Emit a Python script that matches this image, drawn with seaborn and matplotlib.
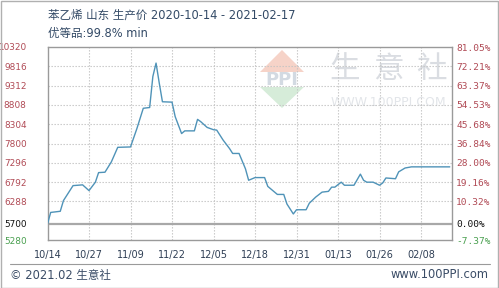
import matplotlib
matplotlib.use("Agg")
import matplotlib.pyplot as plt
from matplotlib.patches import Polygon, Rectangle
import seaborn as sns
import pandas as pd

# ---------------- data ----------------
dates = ["2020-10-14", "2020-10-15", "2020-10-18", "2020-10-19", "2020-10-22", "2020-10-25",
         "2020-10-27", "2020-10-29", "2020-10-30", "2020-11-01", "2020-11-03", "2020-11-05",
         "2020-11-09", "2020-11-11", "2020-11-13", "2020-11-15", "2020-11-16", "2020-11-17",
         "2020-11-18", "2020-11-19", "2020-11-22", "2020-11-23", "2020-11-25", "2020-11-26",
         "2020-11-29", "2020-11-30", "2020-12-01", "2020-12-03", "2020-12-05", "2020-12-06",
         "2020-12-08", "2020-12-10", "2020-12-11", "2020-12-13", "2020-12-15", "2020-12-16",
         "2020-12-18", "2020-12-21", "2020-12-22", "2020-12-25", "2020-12-27", "2020-12-28",
         "2020-12-30", "2020-12-31", "2021-01-03", "2021-01-04", "2021-01-06", "2021-01-08",
         "2021-01-10", "2021-01-11", "2021-01-12", "2021-01-14", "2021-01-15", "2021-01-18",
         "2021-01-20", "2021-01-21", "2021-01-22", "2021-01-24", "2021-01-26", "2021-01-27",
         "2021-01-28", "2021-01-31", "2021-02-01", "2021-02-03", "2021-02-05", "2021-02-17"]
prices = [5700, 6000, 6030, 6310, 6700, 6720,
          6570, 6790, 7040, 7050, 7320, 7700,
          7710, 8190, 8720, 8740, 9550, 9900,
          9380, 8890, 8880, 8500, 8060, 8130,
          8130, 8430, 8370, 8220, 8160, 8150,
          7890, 7670, 7540, 7540, 7140, 6840,
          6910, 6910, 6680, 6470, 6470, 6220,
          5960, 6070, 6070, 6240, 6400, 6530,
          6550, 6660, 6660, 6790, 6710, 6710,
          7000, 6840, 6790, 6790, 6710, 6770,
          6900, 6880, 7060, 7160, 7190, 7190]

ytick_values = [5280, 5700, 6288, 6792, 7296, 7800, 8304, 8808, 9312, 9816, 10320]
ytick_labels = ["5280", "5700", "6288", "6792", "7296", "7800", "8304", "8808", "9312", "9816", "10320"]
pct_labels = ["-7.37%", "0.00%", "10.32%", "19.16%", "28.00%", "36.84%", "45.68%",
              "54.53%", "63.37%", "72.21%", "81.05%"]
xtick_dates = ["2020-10-14", "2020-10-27", "2020-11-09", "2020-11-22", "2020-12-05",
               "2020-12-18", "2020-12-31", "2021-01-13", "2021-01-26", "2021-02-08"]
xtick_labels = ["10/14", "10/27", "11/09", "11/22", "12/05", "12/18", "12/31",
                "01/13", "01/26", "02/08"]

title1 = "苯乙烯 山东 生产价 2020-10-14 - 2021-02-17"
title2 = "优等品:99.8% min"
footer_left = "© 2021.02 生意社"
footer_right = "www.100PPI.com"

df = pd.DataFrame({"date": pd.to_datetime(dates), "price": prices})

# ---------------- figure ----------------
sns.set_style("white")
FONTS = ["DejaVu Sans", "Noto Sans CJK SC"]
plt.rcParams["font.family"] = FONTS

W, H = 499, 288
fig = plt.figure(figsize=(W / 100, H / 100), dpi=100)
L, R, T, B = 47.5, 452.0, 47.0, 240.0
ax = fig.add_axes([L / W, 1 - B / H, (R - L) / W, (B - T) / H])

def px(x, y):
    return ((x - L) / (R - L), (B - y) / (B - T))

# watermark
ax_tr = ax.transAxes
top = Polygon([px(260, 72), px(282, 50), px(304, 72)], closed=True,
              facecolor="#f6d3c8", edgecolor="none", transform=ax_tr, zorder=0.5)
bot = Polygon([px(260, 87), px(282, 108), px(304, 87)], closed=True,
              facecolor="#d6ecd9", edgecolor="none", transform=ax_tr, zorder=0.5)
ax.add_patch(top)
ax.add_patch(bot)
ax.text(*px(282, 80), "PPI", transform=ax_tr, ha="center", va="center",
        fontsize=13, color="#d3dae2", fontweight="bold", zorder=0.6)
for cx, ch in zip([345, 388, 431], ["生", "意", "社"]):
    ax.text(*px(cx, 70), ch, transform=ax_tr, ha="center", va="center",
            fontsize=22, color="#dadde2", family=["Noto Sans CJK SC"], zorder=0.6)
ax.text(*px(388, 103), "WWW.100PPI.COM", transform=ax_tr, ha="center", va="center",
        fontsize=9, color="#e2e5e9", zorder=0.6)

sns.lineplot(data=df, x="date", y="price", ax=ax, color="#4f93b8", linewidth=1.0,
             zorder=3)

ymin, ymax = 5280, 10320
start = pd.Timestamp("2020-10-14")
ax.set_xlim(start, start + pd.Timedelta(days=126.7))
ax.set_ylim(ymin, ymax)

ax.set_yticks(ytick_values)
ax.set_yticklabels(ytick_labels, fontsize=6.4)
ax.set_xticks(pd.to_datetime(xtick_dates))
ax.set_xticklabels(xtick_labels, fontsize=7, color="#2f3f55")
ax.set_xlabel("")
ax.set_ylabel("")
ax.tick_params(axis="both", length=0)
ax.tick_params(axis="y", pad=15)
ax.tick_params(axis="x", pad=7)

def lab_color(v):
    if v > 5700:
        return "#b04a55"
    if v == 5700:
        return "#111111"
    return "#4aa050"

for lbl, v in zip(ax.get_yticklabels(), ytick_values):
    lbl.set_color(lab_color(v))

# grid
for v in ytick_values[2:-1]:
    ax.axhline(v, color="#c4c4c4", lw=0.8, ls=(0, (1.2, 1.5)), zorder=1)
for d in xtick_dates[1:]:
    ax.axvline(pd.Timestamp(d), color="#c4c4c4", lw=0.8, ls=(0, (1.2, 1.5)), zorder=1)
ax.axhline(5700, color="#a8a8a8", lw=1.6, zorder=2)

for s in ax.spines.values():
    s.set_color("#9a9a9a")
    s.set_linewidth(1.0)

ax2 = ax.twinx()
ax2.set_ylim(ymin, ymax)
ax2.set_yticks(ytick_values)
ax2.set_yticklabels(pct_labels, fontsize=6.8, family=["DejaVu Sans Mono"])
ax2.tick_params(axis="y", length=0, pad=3)
for lbl, v in zip(ax2.get_yticklabels(), ytick_values):
    lbl.set_color(lab_color(v))
for s in ax2.spines.values():
    s.set_visible(False)

# titles
fig.text(48 / W, 1 - 15 / H, title1, ha="left", va="center", fontsize=8.3,
         color="#334a66", family=FONTS)
fig.text(48 / W, 1 - 33 / H, title2, ha="left", va="center", fontsize=8.3,
         color="#334a66", family=FONTS)

# footer
fig.add_artist(plt.Line2D([10 / W, 490 / W], [1 - 264 / H, 1 - 264 / H],
                          color="#9a9a9a", lw=0.8))
fig.text(10 / W, 1 - 275 / H, footer_left, ha="left", va="center", fontsize=8.3,
         color="#3a4c66", family=FONTS)
fig.text(489 / W, 1 - 275 / H, footer_right, ha="right", va="center", fontsize=8.3,
         color="#3a4c66", family=FONTS)

# outer border
fig.add_artist(Rectangle((0.5 / W, 0.5 / H), 1 - 1.5 / W, 1 - 1.5 / H,
                         transform=fig.transFigure, fill=False,
                         edgecolor="#b0b0b0", lw=1.0))

fig.savefig("out.png", dpi=100)
